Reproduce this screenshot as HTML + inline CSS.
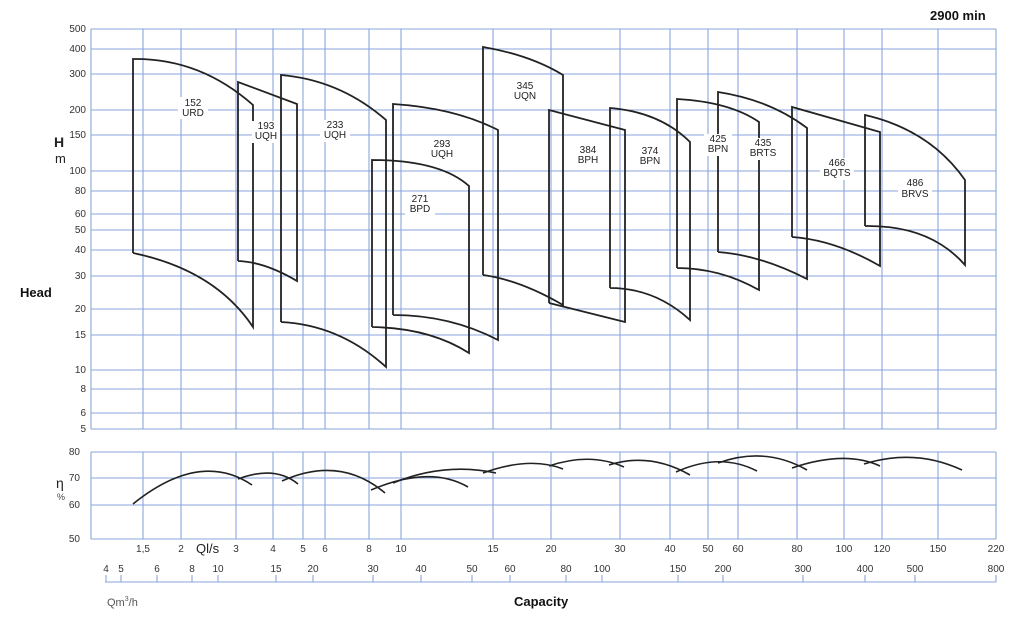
<!DOCTYPE html>
<html><head><meta charset="utf-8"><style>
html,body{margin:0;padding:0;background:#fff;}
svg{display:block;font-family:"Liberation Sans",sans-serif;}
</style></head><body>
<svg width="1024" height="633" viewBox="0 0 1024 633" xmlns="http://www.w3.org/2000/svg">
<rect width="1024" height="633" fill="#fff"/>
<g stroke="#8aa6dc" stroke-width="1.1" fill="none">
<line x1="91" y1="29" x2="996" y2="29"/><line x1="91" y1="49" x2="996" y2="49"/><line x1="91" y1="74" x2="996" y2="74"/>
<line x1="91" y1="110" x2="996" y2="110"/><line x1="91" y1="135" x2="996" y2="135"/><line x1="91" y1="171" x2="996" y2="171"/>
<line x1="91" y1="191" x2="996" y2="191"/><line x1="91" y1="214" x2="996" y2="214"/><line x1="91" y1="230" x2="996" y2="230"/>
<line x1="91" y1="250" x2="996" y2="250"/><line x1="91" y1="276" x2="996" y2="276"/><line x1="91" y1="309" x2="996" y2="309"/>
<line x1="91" y1="335" x2="996" y2="335"/><line x1="91" y1="370" x2="996" y2="370"/><line x1="91" y1="389" x2="996" y2="389"/>
<line x1="91" y1="413" x2="996" y2="413"/><line x1="91" y1="429" x2="996" y2="429"/>
<g>
<line x1="91" y1="29" x2="91" y2="429"/><line x1="143" y1="29" x2="143" y2="429"/><line x1="181" y1="29" x2="181" y2="429"/>
<line x1="236" y1="29" x2="236" y2="429"/><line x1="273" y1="29" x2="273" y2="429"/><line x1="303" y1="29" x2="303" y2="429"/>
<line x1="325" y1="29" x2="325" y2="429"/><line x1="369" y1="29" x2="369" y2="429"/><line x1="401" y1="29" x2="401" y2="429"/>
<line x1="493" y1="29" x2="493" y2="429"/><line x1="551" y1="29" x2="551" y2="429"/><line x1="620" y1="29" x2="620" y2="429"/>
<line x1="670" y1="29" x2="670" y2="429"/><line x1="708" y1="29" x2="708" y2="429"/><line x1="738" y1="29" x2="738" y2="429"/>
<line x1="797" y1="29" x2="797" y2="429"/><line x1="844" y1="29" x2="844" y2="429"/><line x1="882" y1="29" x2="882" y2="429"/>
<line x1="938" y1="29" x2="938" y2="429"/><line x1="996" y1="29" x2="996" y2="429"/>
</g>
<line x1="91" y1="452" x2="996" y2="452"/><line x1="91" y1="478" x2="996" y2="478"/><line x1="91" y1="505" x2="996" y2="505"/><line x1="91" y1="539" x2="996" y2="539"/>
<g>
<line x1="91" y1="452" x2="91" y2="539"/><line x1="143" y1="452" x2="143" y2="539"/><line x1="181" y1="452" x2="181" y2="539"/>
<line x1="236" y1="452" x2="236" y2="539"/><line x1="273" y1="452" x2="273" y2="539"/><line x1="303" y1="452" x2="303" y2="539"/>
<line x1="325" y1="452" x2="325" y2="539"/><line x1="369" y1="452" x2="369" y2="539"/><line x1="401" y1="452" x2="401" y2="539"/>
<line x1="493" y1="452" x2="493" y2="539"/><line x1="551" y1="452" x2="551" y2="539"/><line x1="620" y1="452" x2="620" y2="539"/>
<line x1="670" y1="452" x2="670" y2="539"/><line x1="708" y1="452" x2="708" y2="539"/><line x1="738" y1="452" x2="738" y2="539"/>
<line x1="797" y1="452" x2="797" y2="539"/><line x1="844" y1="452" x2="844" y2="539"/><line x1="882" y1="452" x2="882" y2="539"/>
<line x1="938" y1="452" x2="938" y2="539"/><line x1="996" y1="452" x2="996" y2="539"/>
</g>
<line x1="105" y1="582" x2="996" y2="582"/>
<g>
<line x1="106" y1="575" x2="106" y2="582"/><line x1="121" y1="575" x2="121" y2="582"/><line x1="157" y1="575" x2="157" y2="582"/>
<line x1="192" y1="575" x2="192" y2="582"/><line x1="218" y1="575" x2="218" y2="582"/><line x1="276" y1="575" x2="276" y2="582"/>
<line x1="313" y1="575" x2="313" y2="582"/><line x1="373" y1="575" x2="373" y2="582"/><line x1="421" y1="575" x2="421" y2="582"/>
<line x1="472" y1="575" x2="472" y2="582"/><line x1="510" y1="575" x2="510" y2="582"/><line x1="566" y1="575" x2="566" y2="582"/>
<line x1="602" y1="575" x2="602" y2="582"/><line x1="678" y1="575" x2="678" y2="582"/><line x1="723" y1="575" x2="723" y2="582"/>
<line x1="803" y1="575" x2="803" y2="582"/><line x1="865" y1="575" x2="865" y2="582"/><line x1="915" y1="575" x2="915" y2="582"/>
<line x1="996" y1="575" x2="996" y2="582"/>
</g>
</g>
<g stroke="#222" stroke-width="1.8" fill="none">
<path d="M133,253 L133,59 Q200,58 253,105 L253,327 Q215,270 133,253"/>
<path d="M238,261 L238,82 L297,104 L297,281 Q265,262 238,261"/>
<path d="M281,322 L281,75 Q340,80 386,120 L386,367 Q340,325 281,322"/>
<path d="M372,327 L372,160 Q440,160 469,186 L469,353 Q430,328 372,327"/>
<path d="M393,315 L393,104 Q455,108 498,130 L498,340 Q450,315 393,315"/>
<path d="M483,275 L483,47 Q530,55 563,75 L563,305 Q520,280 483,275"/>
<path d="M549,303 L549,110 L625,130 L625,322 L549,303"/>
<path d="M610,288 L610,108 Q660,112 690,142 L690,320 Q655,288 610,288"/>
<path d="M677,268 L677,99 Q730,102 759,122 L759,290 Q720,268 677,268"/>
<path d="M718,252 L718,92 Q770,100 807,128 L807,279 Q760,255 718,252"/>
<path d="M792,237 L792,107 L880,132 L880,266 Q835,240 792,237"/>
<path d="M865,226 L865,115 Q930,130 965,180 L965,265 Q930,225 865,226"/>
</g>
<g font-size="10" fill="#222" text-anchor="middle">
<rect x="178" y="97" width="30" height="22" fill="#fff"/><text x="193" y="106">152</text><text x="193" y="116">URD</text>
<rect x="252" y="121" width="28" height="22" fill="#fff"/><text x="266" y="129">193</text><text x="266" y="139">UQH</text>
<rect x="320" y="120" width="30" height="22" fill="#fff"/><text x="335" y="128">233</text><text x="335" y="138">UQH</text>
<rect x="405" y="194" width="30" height="22" fill="#fff"/><text x="420" y="202">271</text><text x="420" y="212">BPD</text>
<rect x="427" y="139" width="30" height="22" fill="#fff"/><text x="442" y="147">293</text><text x="442" y="157">UQH</text>
<text x="525" y="89">345</text><text x="525" y="99">UQN</text>
<rect x="573" y="145" width="30" height="22" fill="#fff"/><text x="588" y="153">384</text><text x="588" y="163">BPH</text>
<rect x="635" y="146" width="30" height="22" fill="#fff"/><text x="650" y="154">374</text><text x="650" y="164">BPN</text>
<rect x="704" y="134" width="28" height="22" fill="#fff"/><text x="718" y="142">425</text><text x="718" y="152">BPN</text>
<rect x="747" y="138" width="32" height="22" fill="#fff"/><text x="763" y="146">435</text><text x="763" y="156">BRTS</text>
<rect x="820" y="158" width="34" height="22" fill="#fff"/><text x="837" y="166">466</text><text x="837" y="176">BQTS</text>
<rect x="898" y="177" width="34" height="22" fill="#fff"/><text x="915" y="186">486</text><text x="915" y="197">BRVS</text>
</g>
<g stroke="#222" stroke-width="1.6" fill="none">
<path d="M133,504 Q200,450 252,485"/>
<path d="M238,479 Q275,465 298,484"/>
<path d="M282,481 Q340,455 385,493"/>
<path d="M371,490 Q430,465 468,487"/>
<path d="M393,483 Q445,462 496,473"/>
<path d="M483,473 Q530,456 563,469"/>
<path d="M549,466 Q590,452 624,467"/>
<path d="M609,465 Q650,452 690,475"/>
<path d="M676,472 Q720,452 757,471"/>
<path d="M718,463 Q765,446 807,470"/>
<path d="M792,468 Q845,450 880,466"/>
<path d="M864,464 Q915,448 962,470"/>
</g>
<g font-size="10" fill="#333" text-anchor="end">
<text x="86" y="32">500</text><text x="86" y="52">400</text><text x="86" y="77">300</text><text x="86" y="113">200</text>
<text x="86" y="138">150</text><text x="86" y="174">100</text><text x="86" y="194">80</text><text x="86" y="217">60</text>
<text x="86" y="233">50</text><text x="86" y="253">40</text><text x="86" y="279">30</text><text x="86" y="312">20</text>
<text x="86" y="338">15</text><text x="86" y="373">10</text><text x="86" y="392">8</text><text x="86" y="416">6</text><text x="86" y="432">5</text>
<text x="80" y="455">80</text><text x="80" y="481">70</text><text x="80" y="508">60</text><text x="80" y="542">50</text>
</g>
<g font-size="10" fill="#333" text-anchor="middle">
<text x="143" y="552">1,5</text><text x="181" y="552">2</text><text x="236" y="552">3</text><text x="273" y="552">4</text>
<text x="303" y="552">5</text><text x="325" y="552">6</text><text x="369" y="552">8</text><text x="401" y="552">10</text>
<text x="493" y="552">15</text><text x="551" y="552">20</text><text x="620" y="552">30</text><text x="670" y="552">40</text>
<text x="708" y="552">50</text><text x="738" y="552">60</text><text x="797" y="552">80</text><text x="844" y="552">100</text>
<text x="882" y="552">120</text><text x="938" y="552">150</text><text x="996" y="552">220</text>
<text x="106" y="572">4</text><text x="121" y="572">5</text><text x="157" y="572">6</text><text x="192" y="572">8</text>
<text x="218" y="572">10</text><text x="276" y="572">15</text><text x="313" y="572">20</text><text x="373" y="572">30</text>
<text x="421" y="572">40</text><text x="472" y="572">50</text><text x="510" y="572">60</text><text x="566" y="572">80</text>
<text x="602" y="572">100</text><text x="678" y="572">150</text><text x="723" y="572">200</text><text x="803" y="572">300</text>
<text x="865" y="572">400</text><text x="915" y="572">500</text><text x="996" y="572">800</text>
</g>
<text x="196" y="553" font-size="13" fill="#222">Ql/s</text>
<text x="107" y="606" font-size="11" fill="#555">Qm<tspan font-size="7" dy="-5">3</tspan><tspan dy="5">/h</tspan></text>
<text x="514" y="606" font-size="13" font-weight="bold" fill="#111">Capacity</text>
<text x="20" y="297" font-size="13" font-weight="bold" fill="#111">Head</text>
<text x="54" y="147" font-size="14" font-weight="bold" fill="#222">H</text>
<text x="55" y="163" font-size="13" fill="#222">m</text>
<text x="56" y="488" font-size="14" fill="#222">η</text>
<text x="57" y="500" font-size="9" fill="#444">%</text>
<text x="930" y="20" font-size="13" font-weight="bold" fill="#111">2900 min</text>
</svg>
</body></html>
